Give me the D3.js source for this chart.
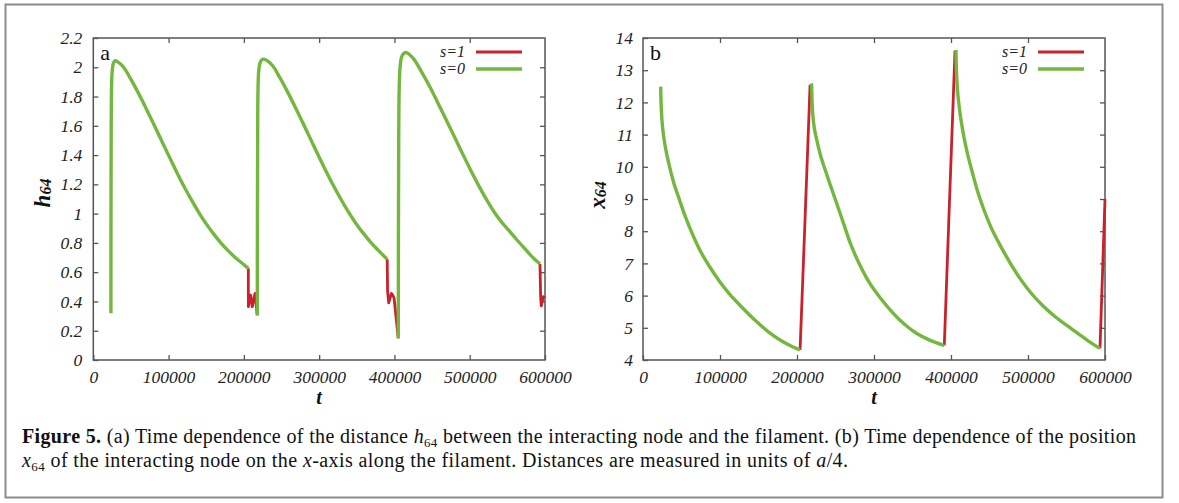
<!DOCTYPE html>
<html>
<head>
<meta charset="utf-8">
<script src="https://cdn.jsdelivr.net/npm/d3@7"></script>
<style>
  body { margin: 0; background: #fff; }
  svg { display: block; }
</style>
</head>
<body>
<div id="figure"></div>
<script>
const RED = "#c8232c"
const GREEN = "#74b73e"
const AXIS = "#555"
const SERIF = "'Liberation Serif', 'DejaVu Serif', serif"

// shared time axis
var tTicks = [0, 100000, 200000, 300000, 400000, 500000, 600000];
var hTicks = [0, 0.2, 0.4, 0.6, 0.8, 1, 1.2, 1.4, 1.6, 1.8, 2, 2.2];
var xTicks = [4, 5, 6, 7, 8, 9, 10, 11, 12, 13, 14];
var seriesNames = ["s=1", "s=0"];

// panel a: h64, s=0 (green) pieces
var hGreen1 = [[23400,0.32],[23500,1.0],[23800,1.6],[24300,1.88],[25200,1.98],[26800,2.03],[29000,2.045],[31500,2.04],
  [40000,2.002],[50000,1.917],[60000,1.822],[70000,1.72],[80000,1.614],[90000,1.506],[100000,1.398],
  [110000,1.292],[120000,1.191],[130000,1.097],[140000,1.009],[150000,0.93],[160000,0.86],[170000,0.797],
  [180000,0.742],[190000,0.693],[200000,0.652],[205900,0.626]];
var hGreen2 = [[217800,0.305],[218000,0.9],[218300,1.5],[218800,1.85],[219800,1.98],[221500,2.03],[224500,2.055],
  [229500,2.05],[238000,2.012],[248000,1.927],[258000,1.832],[268000,1.73],[278000,1.624],[288000,1.516],
  [298000,1.408],[308000,1.302],[318000,1.201],[328000,1.107],[338000,1.019],[348000,0.94],[358000,0.87],
  [368000,0.807],[378000,0.752],[390400,0.688]];
var hGreen3 = [[405100,0.148],[405300,0.8],[405700,1.5],[406300,1.85],[407500,2.0],[409500,2.07],[412500,2.095],
  [416000,2.1],[425200,2.059],[436000,1.969],[446800,1.869],[457600,1.758],[468400,1.645],[479200,1.53],
  [490000,1.415],[500800,1.302],[511600,1.195],[522400,1.095],[532000,1.015],[542000,0.945],[552000,0.885],
  [562000,0.825],[572000,0.767],[582000,0.71],[593300,0.656]];
// panel a: s=1 (red) pieces
var hRed1 = [[205900,0.626],[206000,0.364],[209000,0.444],[211200,0.364],[214800,0.455],[217800,0.305]];
var hRed2 = [[390400,0.688],[390900,0.47],[392400,0.39],[396000,0.455],[398000,0.44],[399500,0.425],[405100,0.148]];
var hRed3 = [[593300,0.656],[594200,0.433],[595000,0.37],[597700,0.433],[600000,0.425]];

// panel b: x64, s=0 (green) pieces
var xGreen1 = [[23000,12.49],[23600,11.9],[24600,11.45],[26500,11.0],[29500,10.55],[34000,10.05],[40000,9.5],
  [47000,9.0],[55000,8.45],[64000,7.92],[75000,7.36],[87000,6.88],[100000,6.42],[113000,6.03],[130000,5.6],
  [147000,5.2],[162000,4.89],[178000,4.62],[191000,4.45],[204000,4.31]];
var xGreen2 = [[219000,12.59],[219600,12.0],[220600,11.6],[222500,11.2],[225500,10.85],[230000,10.4],[236000,9.95],
  [243000,9.45],[251000,8.9],[260000,8.27],[270000,7.58],[281000,6.98],[294000,6.4],[309000,5.9],
  [325000,5.45],[340000,5.1],[355000,4.83],[373000,4.61],[391300,4.45]];
var xGreen3 = [[406500,13.63],[407100,13.0],[408100,12.5],[410000,12.0],[413000,11.45],[417000,10.9],[422000,10.35],
  [428000,9.8],[435000,9.2],[443000,8.65],[452000,8.12],[463000,7.6],[476000,7.05],[490000,6.52],
  [505000,6.05],[520000,5.67],[535000,5.35],[550000,5.08],[565000,4.82],[579000,4.58],[593500,4.36]];
// panel b: s=1 (red) pieces
var xRed1 = [[204000,4.31],[210500,8.4],[217000,12.55]];
var xRed2 = [[391300,4.45],[398000,8.9],[405200,13.6]];
var xRed3 = [[593500,4.36],[600000,9.0]];

var svg = d3.select("#figure").append("svg")
  .attr("width", 1179)
  .attr("height", 503);

// outer figure frame
svg.append("rect")
  .attr("x", 5.5).attr("y", 4.5)
  .attr("width", 1157).attr("height", 493)
  .attr("fill", "none")
  .attr("stroke", "#8c8c8c")
  .attr("stroke-width", 2);

function drawPanel(cfg) {
  var g = svg.append("g");
  var x = d3.scaleLinear().domain([0, 600000]).range([cfg.left, cfg.right]);
  var y = d3.scaleLinear().domain(cfg.yDomain).range([cfg.bottom, cfg.top]);

  g.append("g")
    .attr("transform", "translate(0," + cfg.bottom + ")")
    .call(d3.axisBottom(x).tickValues(tTicks).tickSize(-5).tickPadding(11).tickFormat(d3.format("d")));
  g.append("g")
    .attr("transform", "translate(0," + cfg.top + ")")
    .call(d3.axisTop(x).tickValues(tTicks.slice(1, -1)).tickSize(-5).tickFormat(""));
  g.append("g")
    .attr("transform", "translate(" + cfg.left + ",0)")
    .call(d3.axisLeft(y).tickValues(cfg.yTicks).tickSize(-5).tickPadding(cfg.labelPad).tickFormat(d => String(d)));
  g.append("g")
    .attr("transform", "translate(" + cfg.right + ",0)")
    .call(d3.axisRight(y).tickValues(cfg.yTicks.slice(1, -1)).tickSize(-5).tickFormat(""));

  g.selectAll(".domain").remove();
  g.selectAll(".tick line").attr("stroke", AXIS).attr("stroke-width", 1.3);
  g.selectAll(".tick text")
    .attr("fill", "#222")
    .style("font-family", SERIF)
    .style("font-style", "italic")
    .style("font-size", "17.5px");

  g.append("rect")
    .attr("x", cfg.left).attr("y", cfg.top)
    .attr("width", cfg.right - cfg.left).attr("height", cfg.bottom - cfg.top)
    .attr("fill", "none")
    .attr("stroke", AXIS)
    .attr("stroke-width", 1.5);

  var redLine = d3.line().x(d => x(d[0])).y(d => y(d[1]));
  var greenLine = d3.line().x(d => x(d[0])).y(d => y(d[1])).curve(d3.curveCatmullRom.alpha(0.5));

  g.selectAll(".s1").data(cfg.red).join("path")
    .attr("class", "s1")
    .attr("d", redLine)
    .attr("fill", "none")
    .attr("stroke", RED)
    .attr("stroke-width", 2.8)
    .attr("stroke-linejoin", "round");

  g.selectAll(".s0").data(cfg.green).join("path")
    .attr("class", "s0")
    .attr("d", greenLine)
    .attr("fill", "none")
    .attr("stroke", GREEN)
    .attr("stroke-width", 3.4)
    .attr("stroke-linejoin", "round");

  // panel letter
  g.append("text")
    .attr("x", cfg.left + 7).attr("y", 60)
    .style("font-family", SERIF)
    .style("font-size", "22px")
    .attr("fill", "#111")
    .text(cfg.letter);

  // legend
  var leg = g.selectAll(".legend").data(seriesNames).join("g").attr("class", "legend")
    .attr("transform", (d, i) => "translate(0," + (52 + i * 17) + ")");
  leg.append("text")
    .attr("x", cfg.legendX).attr("y", 5)
    .attr("text-anchor", "end")
    .attr("fill", "#222")
    .style("font-family", SERIF)
    .style("font-style", "italic")
    .style("font-size", "16px")
    .text(d => d);
  leg.append("line")
    .attr("x1", cfg.legendX + 11).attr("x2", cfg.legendX + 57)
    .attr("stroke", (d, i) => i == 0 ? RED : GREEN)
    .attr("stroke-width", (d, i) => i == 0 ? 2.8 : 3.4);

  // axis titles
  g.append("text")
    .attr("x", (cfg.left + cfg.right) / 2).attr("y", 404)
    .attr("text-anchor", "middle")
    .attr("fill", "#111")
    .style("font-family", SERIF)
    .style("font-style", "italic")
    .style("font-weight", "bold")
    .style("font-size", "20px")
    .text("t");

  var yt = g.append("text")
    .attr("transform", "translate(" + cfg.titleX + "," + cfg.titleY + ") rotate(-90)")
    .attr("text-anchor", "middle")
    .attr("fill", "#111")
    .style("font-family", SERIF)
    .style("font-style", "italic")
    .style("font-weight", "bold");
  yt.append("tspan").style("font-size", "23px").text(cfg.title);
  yt.append("tspan").style("font-size", "16px").attr("dy", 1).text("64");
}

drawPanel({
  left: 93.3, right: 545, top: 38, bottom: 360,
  yDomain: [0, 2.2], yTicks: hTicks, labelPad: 11,
  letter: "a", title: "h", titleX: 50, titleY: 193,
  legendX: 465,
  red: [hRed1, hRed2, hRed3],
  green: [hGreen1, hGreen2, hGreen3]
});

drawPanel({
  left: 643, right: 1105, top: 38, bottom: 360,
  yDomain: [4, 14], yTicks: xTicks, labelPad: 10,
  letter: "b", title: "x", titleX: 605, titleY: 195,
  legendX: 1027,
  red: [xRed1, xRed2, xRed3],
  green: [xGreen1, xGreen2, xGreen3]
});

// caption
var captionLines = [
  [["Figure 5.", "b"], [" (a) Time dependence of the distance ", ""], ["h", "i"], ["64", "sub"],
   [" between the interacting node and the filament. (b) Time dependence of the position", ""]],
  [["x", "i"], ["64", "sub"], [" of the interacting node on the ", ""], ["x", "i"],
   ["-axis along the filament. Distances are measured in units of ", ""], ["a", "i"], ["/4.", ""]]
];
var captionWidths = [1114, 826];

captionLines.forEach(function(parts, li) {
  var t = svg.append("text")
    .attr("x", 22).attr("y", 443 + li * 24)
    .attr("fill", "#111")
    .attr("textLength", captionWidths[li])
    .attr("lengthAdjust", "spacing")
    .style("font-family", SERIF)
    .style("font-size", "20px");
  var shift = 0;
  parts.forEach(function(p) {
    var s = t.append("tspan").text(p[0]);
    if (p[1] == "b") s.style("font-weight", "bold");
    if (p[1] == "i") s.style("font-style", "italic");
    var want = p[1] == "sub" ? 4 : 0;
    if (want != shift) { s.attr("dy", want - shift); shift = want; }
    if (p[1] == "sub") s.style("font-size", "13px");
  });
});
</script>
</body>
</html>
